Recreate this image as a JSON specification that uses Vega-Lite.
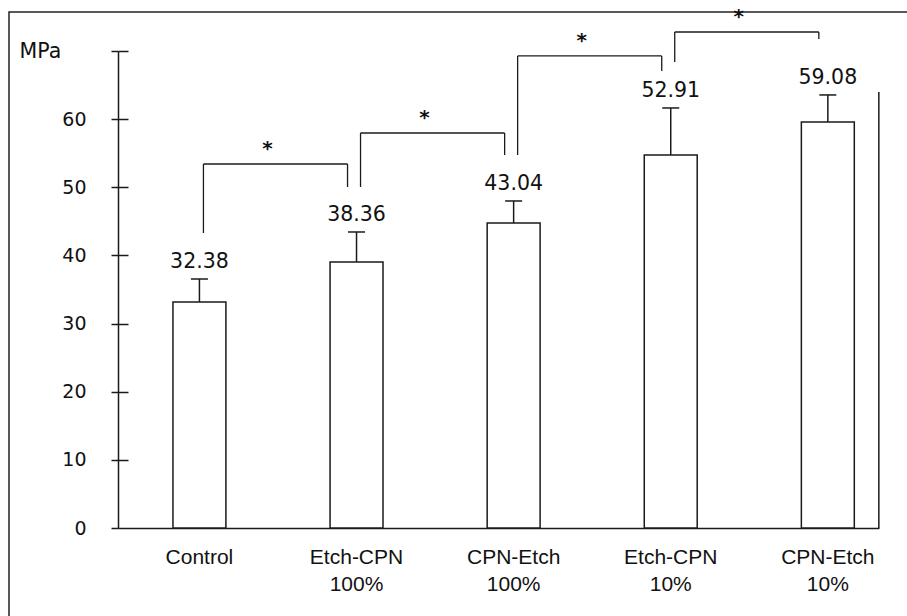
{
  "$schema": "https://vega.github.io/schema/vega-lite/v6.json",
  "width": 898,
  "height": 604,
  "autosize": "none",
  "padding": {"left": 9, "top": 12, "right": 0, "bottom": 0},
  "background": "white",
  "config": {"view": {"stroke": "#222222", "strokeWidth": 1.5, "strokeDash": [898, 1502, 604]}},
  "datasets": {
    "bars": [
      {"group": "Control", "mean": 33.17, "err": 36.54, "label": "32.38"},
      {"group": "Etch-CPN 100%", "mean": 39.04, "err": 43.44, "label": "38.36"},
      {"group": "CPN-Etch 100%", "mean": 44.76, "err": 47.99, "label": "43.04"},
      {"group": "Etch-CPN 10%", "mean": 54.74, "err": 61.64, "label": "52.91"},
      {"group": "CPN-Etch 10%", "mean": 59.58, "err": 63.55, "label": "59.08"}
    ],
    "brackets": [
      {"from": "Control", "to": "Etch-CPN 100%", "low1": 43.29, "top": 53.42, "low2": 50.04},
      {"from": "Etch-CPN 100%", "to": "CPN-Etch 100%", "low1": 50.04, "top": 57.97, "low2": 54.74},
      {"from": "CPN-Etch 100%", "to": "Etch-CPN 10%", "low1": 54.74, "top": 69.27, "low2": 67.07},
      {"from": "Etch-CPN 10%", "to": "CPN-Etch 10%", "low1": 68.39, "top": 72.79, "low2": 71.76}
    ]
  },
  "resolve": {"scale": {"x": "shared", "y": "shared"}, "axis": {"x": "independent", "y": "independent"}},
  "layer": [
    {
      "data": {"name": "bars"},
      "mark": {"type": "bar", "fill": "white", "stroke": "#1a1a1a", "strokeWidth": 1.5, "opacity": 1},
      "encoding": {
        "x": {
          "field": "group", "type": "nominal", "sort": null,
          "scale": {"domain": ["Control", "Etch-CPN 100%", "CPN-Etch 100%", "Etch-CPN 10%", "CPN-Etch 10%"], "range": [109, 870], "paddingInner": 0.663, "paddingOuter": 0.2535, "align": 0.69},
          "axis": {"title": null, "orient": "bottom", "offset": -88, "ticks": false, "tickSize": 0, "domainColor": "#1a1a1a", "domainWidth": 1.5, "labelFont": "Liberation Sans", "labelFontSize": 21, "labelColor": "#111111", "labelAngle": 0, "labelPadding": 35, "labelBaseline": "alphabetic", "labelLineHeight": 27, "labelExpr": "split(datum.label, ' ')"}
        },
        "y": {
          "field": "mean", "type": "quantitative",
          "scale": {"domain": [0, 70], "range": [516, 39], "nice": false, "zero": true},
          "axis": {"title": "MPa", "titleAngle": 0, "titleX": -99, "titleY": 39, "titleAlign": "left", "titleBaseline": "middle", "titleFont": "DejaVu Sans", "titleFontSize": 20.5, "titleFontWeight": "normal", "titleColor": "#111111", "values": [0, 10, 20, 30, 40, 50, 60, 70], "labelExpr": "datum.value == 70 ? '' : datum.label", "labelFont": "DejaVu Sans", "labelFontSize": 19, "labelColor": "#111111", "labelPadding": 25, "tickSize": 7, "tickWidth": 1.5, "tickColor": "#1a1a1a", "domainWidth": 1.5, "domainColor": "#1a1a1a", "grid": false, "offset": -109}
        }
      }
    },
    {
      "data": {"name": "bars"},
      "mark": {"type": "rule", "color": "#1a1a1a", "strokeWidth": 1.5},
      "encoding": {
        "x": {"field": "group", "type": "nominal", "sort": null, "axis": null},
        "y": {
          "field": "mean", "type": "quantitative",
          "scale": {"domain": [0, 70], "range": [516, 39], "nice": false, "zero": true},
          "axis": {"orient": "right", "offset": -789, "values": [10, 20, 30, 40, 50, 60, 70], "labels": false, "domain": false, "grid": false, "tickSize": 10, "tickWidth": 1.5, "tickColor": "#1a1a1a", "title": null}
        },
        "y2": {"field": "err"}
      }
    },
    {
      "data": {"name": "bars"},
      "mark": {"type": "tick", "orient": "horizontal", "size": 17, "thickness": 1.5, "color": "#1a1a1a", "opacity": 1},
      "encoding": {
        "x": {"field": "group", "type": "nominal", "sort": null, "axis": null},
        "y": {"field": "err", "type": "quantitative", "scale": {"domain": [0, 70], "range": [516, 39], "nice": false, "zero": true}, "axis": null}
      }
    },
    {
      "data": {"name": "bars"},
      "mark": {"type": "text", "font": "DejaVu Sans", "fontSize": 20.5, "baseline": "middle", "align": "center", "dy": -17, "color": "#111111"},
      "encoding": {
        "x": {"field": "group", "type": "nominal", "sort": null, "axis": null},
        "y": {"field": "err", "type": "quantitative", "scale": {"domain": [0, 70], "range": [516, 39], "nice": false, "zero": true}, "axis": null},
        "text": {"field": "label"}
      }
    },
    {
      "data": {"name": "brackets"},
      "mark": {"type": "rule", "color": "#1a1a1a", "strokeWidth": 1.3, "xOffset": 4},
      "encoding": {
        "x": {"field": "from", "type": "nominal", "sort": null, "axis": null},
        "y": {"field": "low1", "type": "quantitative", "scale": {"domain": [0, 70], "range": [516, 39], "nice": false, "zero": true}, "axis": null},
        "y2": {"field": "top"}
      }
    },
    {
      "data": {"name": "brackets"},
      "mark": {"type": "rule", "color": "#1a1a1a", "strokeWidth": 1.3, "xOffset": -9},
      "encoding": {
        "x": {"field": "to", "type": "nominal", "sort": null, "axis": null},
        "y": {"field": "low2", "type": "quantitative", "scale": {"domain": [0, 70], "range": [516, 39], "nice": false, "zero": true}, "axis": null},
        "y2": {"field": "top"}
      }
    },
    {
      "data": {"name": "brackets"},
      "mark": {"type": "rule", "color": "#1a1a1a", "strokeWidth": 1.3, "xOffset": 4, "x2Offset": -9},
      "encoding": {
        "x": {"field": "from", "type": "nominal", "sort": null, "axis": null},
        "x2": {"field": "to"},
        "y": {"field": "top", "type": "quantitative", "scale": {"domain": [0, 70], "range": [516, 39], "nice": false, "zero": true}, "axis": null}
      }
    },
    {
      "data": {"name": "brackets"},
      "mark": {"type": "text", "text": "*", "font": "DejaVu Sans", "fontSize": 20, "fontWeight": "bold", "baseline": "alphabetic", "align": "center", "dx": 68, "dy": -8.5, "color": "#111111"},
      "encoding": {
        "x": {"field": "from", "type": "nominal", "sort": null, "axis": null},
        "y": {"field": "top", "type": "quantitative", "scale": {"domain": [0, 70], "range": [516, 39], "nice": false, "zero": true}, "axis": null}
      }
    },
    {
      "data": {"name": "bars"},
      "transform": [{"filter": "datum.group == 'CPN-Etch 10%'"}],
      "mark": {"type": "rule", "color": "#1a1a1a", "strokeWidth": 1.5, "xOffset": 51},
      "encoding": {
        "x": {"field": "group", "type": "nominal", "sort": null, "axis": null},
        "y": {"datum": 64, "type": "quantitative", "scale": {"domain": [0, 70], "range": [516, 39], "nice": false, "zero": true}, "axis": null},
        "y2": {"datum": 0}
      }
    }
  ]
}
